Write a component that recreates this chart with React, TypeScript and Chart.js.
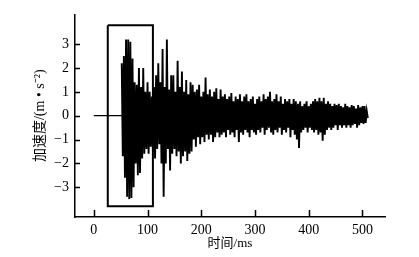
import React, { useEffect, useRef } from "react";
import { Chart, registerables } from "chart.js";

Chart.register(...registerables);

// sample start time (ms) and sample step (ms) of the record
const T0 = 52;
const DT = 2;

// acceleration samples (m/s^2), alternating peaks
const accel = [
  2.2, -1.7, 2.5, -2.6, 3.2, -3.4, 3.2, -3.5, 3.1, -3.45, 2.4, -3.0,
  1.4, -2.0, 1.3, -2.5, 2.0, -2.4, 1.2, -1.8, 2.0, -1.6, 1.0, -1.4,
  1.4, -1.6, 1.0, -1.3, 0.8, -1.5, 1.2, -1.8, 1.7, -1.4, 2.2, -1.2,
  1.4, -2.0, 2.8, -3.4, 1.2, -2.0, 3.2, -1.4, 1.1, -2.3, 1.7, -1.6,
  1.7, -1.4, 1.0, -1.7, 2.3, -1.5, 1.2, -2.0, 1.85, -1.7, 1.0, -1.5,
  1.5, -1.9, 0.9, -1.6, 1.4, -1.5, 1.3, -1.0, 1.0, -1.3, 1.1, -0.9,
  1.3, -1.2, 0.8, -0.9, 1.0, -1.1, 1.6, -0.8, 0.9, -1.0, 1.1, -0.8,
  0.8, -1.1, 1.0, -0.9, 1.15, -0.7, 0.7, -0.9, 1.1, -0.8, 0.8, -0.7,
  0.9, -0.9, 0.7, -0.6, 0.8, -0.8, 0.95, -0.7, 0.6, -0.9, 0.8, -0.6,
  0.7, -1.1, 0.9, -0.7, 0.6, -0.8, 0.8, -0.6, 0.9, -0.7, 0.6, -0.9,
  0.7, -0.6, 0.8, -0.7, 0.5, -0.8, 0.7, -0.6, 0.8, -0.7, 0.6, -0.5,
  0.9, -0.8, 0.7, -0.6, 0.8, -0.5, 1.0, -0.7, 0.6, -0.8, 0.7, -0.6,
  0.9, -0.7, 0.6, -0.5, 0.8, -0.8, 0.5, -0.6, 0.7, -0.7, 0.6, -0.5,
  0.7, -0.9, 0.5, -0.6, 0.7, -0.8, 0.6, -1.0, 0.5, -1.35, 0.6, -0.7,
  0.4, -0.6, 0.5, -0.5, 0.6, -0.7, 0.4, -0.5, 0.5, -0.6, 0.6, -0.7,
  0.7, -0.6, 0.6, -0.8, 0.75, -0.7, 0.6, -1.05, 0.75, -0.8, 0.5, -0.6,
  0.6, -0.5, 0.5, -0.6, 0.4, -0.5, 0.5, -0.4, 0.45, -0.6, 0.5, -0.4,
  0.4, -0.5, 0.35, -0.4, 0.5, -0.5, 0.4, -0.4, 0.35, -0.5, 0.45, -0.4,
  0.4, -0.35, 0.3, -0.5, 0.45, -0.4, 0.35, -0.3, 0.4, -0.35, 0.4, -0.3,
  0.2, -0.1,
];

// quiet lead-in before the record
const leadTimes = [0, 52];
const leadValues = [0, 0];

// highlighted window (ms, m/s^2)
const boxTimes = [26, 110, 110, 26, 26];
const boxValues = [3.8, 3.8, -3.8, -3.8, 3.8];

const xTicks = [0, 100, 200, 300, 400, 500];
const yTicks = [-3, -2, -1, 0, 1, 2, 3];

const FONT = "'Liberation Serif', 'Noto Sans CJK SC', serif";

const innerTicks = {
  id: "innerTicks",
  afterDraw(chart: any) {
    const { ctx, chartArea, scales } = chart;
    ctx.save();
    ctx.strokeStyle = "#000";
    ctx.lineWidth = 1.5;
    ctx.beginPath();
    for (const v of yTicks) {
      const y = Math.round(scales.y.getPixelForValue(v)) + 0.5;
      ctx.moveTo(chartArea.left, y);
      ctx.lineTo(chartArea.left + 5, y);
    }
    for (const v of xTicks) {
      const x = Math.round(scales.x.getPixelForValue(v)) + 0.5;
      ctx.moveTo(x, chartArea.bottom);
      ctx.lineTo(x, chartArea.bottom - 7);
    }
    ctx.stroke();
    ctx.restore();
  },
};

export default function App() {
  const ref = useRef<HTMLCanvasElement>(null);
  useEffect(() => {
    if (!ref.current) return;
    const lead = leadTimes.map((t, i) => ({ x: t, y: leadValues[i] }));
    const signal = accel.map((v, i) => ({ x: T0 + i * DT, y: v }));
    const box = boxTimes.map((t, i) => ({ x: t, y: boxValues[i] }));
    const chart = new Chart(ref.current, {
      type: "line",
      data: {
        datasets: [
          {
            data: lead,
            borderColor: "#000",
            borderWidth: 1.2,
            pointRadius: 0,
            tension: 0,
          },
          {
            data: signal,
            borderColor: "#000",
            borderWidth: 1.9,
            pointRadius: 0,
            tension: 0,
          },
          {
            data: box,
            borderColor: "#000",
            borderWidth: 2,
            pointRadius: 0,
            tension: 0,
          },
        ],
      },
      options: {
        animation: false,
        responsive: true,
        maintainAspectRatio: false,
        layout: { padding: { left: 0, top: 7, right: 34, bottom: 0 } },
        plugins: { legend: { display: false }, tooltip: { enabled: false } },
        scales: {
          x: {
            type: "linear",
            min: -35,
            max: 542,
            afterBuildTicks: (s: any) => {
              s.ticks = xTicks.map((v) => ({ value: v }));
            },
            afterFit: (s: any) => {
              s.height = 40;
            },
            grid: { display: false, drawTicks: false },
            border: { display: true, color: "#000", width: 1.5 },
            ticks: {
              color: "#000",
              padding: 5,
              maxRotation: 0,
              font: { family: FONT, size: 14 },
            },
            title: {
              display: true,
              text: "时间/ms",
              color: "#000",
              font: { family: FONT, size: 13 },
              padding: { top: 0, bottom: 6 },
            },
          },
          y: {
            type: "linear",
            min: -4.25,
            max: 4.25,
            afterBuildTicks: (s: any) => {
              s.ticks = yTicks.map((v) => ({ value: v }));
            },
            afterFit: (s: any) => {
              s.width = 75;
            },
            grid: { display: false, drawTicks: false },
            border: { display: true, color: "#000", width: 1.5 },
            ticks: {
              color: "#000",
              padding: 6,
              font: { family: FONT, size: 14 },
              callback: (v: any) => (v < 0 ? "\u2212" + Math.abs(v) : String(v)),
            },
            title: {
              display: true,
              text: "加速度/(m • s⁻²)",
              color: "#000",
              font: { family: FONT, size: 14 },
              padding: { top: 32, bottom: 0 },
            },
          },
        },
      },
      plugins: [innerTicks],
    });
    return () => chart.destroy();
  }, []);
  return (
    <div style={{ position: "fixed", left: 0, top: 0, width: 419, height: 257, background: "#fff" }}>
      <canvas ref={ref} />
    </div>
  );
}
